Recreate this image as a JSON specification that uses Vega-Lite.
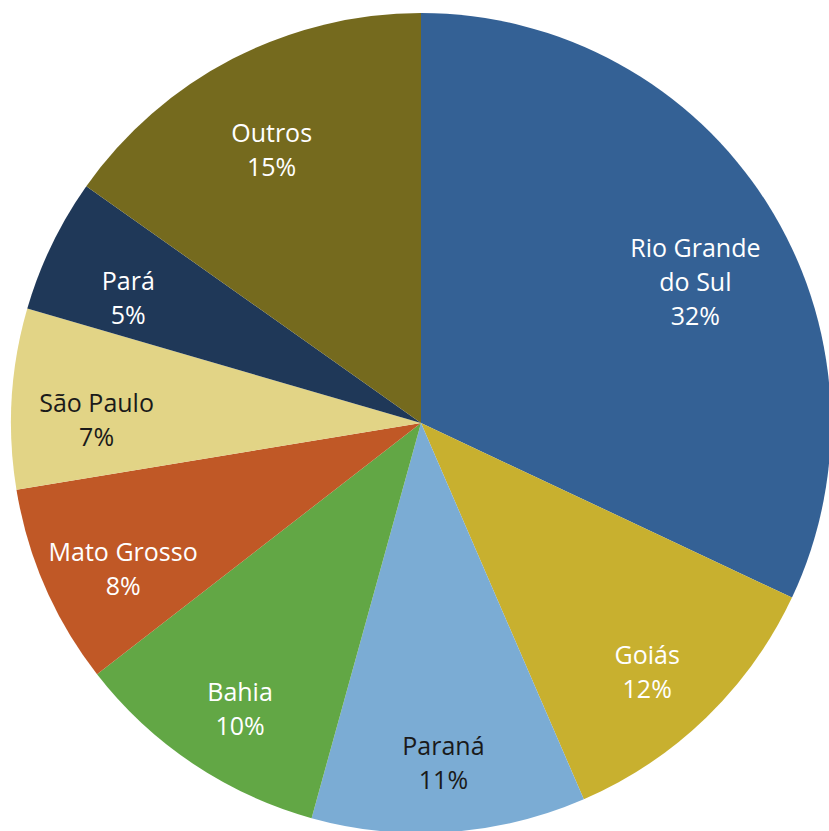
{
  "$schema": "https://vega.github.io/schema/vega-lite/v6.json",
  "width": 816,
  "height": 812,
  "autosize": {"type": "none"},
  "padding": {"left": 13, "top": 17, "right": 0, "bottom": 2},
  "background": "white",
  "view": {"stroke": null},
  "data": {
    "values": [
      {"ordem": 1, "estado": "Rio Grande do Sul", "rotulo": "Rio Grande\ndo Sul", "valor": 32.0},
      {"ordem": 2, "estado": "Goiás", "rotulo": "Goiás", "valor": 11.5},
      {"ordem": 3, "estado": "Paraná", "rotulo": "Paraná", "valor": 10.8},
      {"ordem": 4, "estado": "Bahia", "rotulo": "Bahia", "valor": 10.2},
      {"ordem": 5, "estado": "Mato Grosso", "rotulo": "Mato Grosso", "valor": 7.9},
      {"ordem": 6, "estado": "São Paulo", "rotulo": "São Paulo", "valor": 7.1},
      {"ordem": 7, "estado": "Pará", "rotulo": "Pará", "valor": 5.3},
      {"ordem": 8, "estado": "Outros", "rotulo": "Outros", "valor": 15.2}
    ]
  },
  "transform": [
    {"calculate": "datum.rotulo + '\\n' + round(datum.valor) + '%'", "as": "texto"}
  ],
  "encoding": {
    "theta": {"field": "valor", "type": "quantitative", "stack": true},
    "order": {"field": "ordem", "type": "quantitative"}
  },
  "layer": [
    {
      "mark": {"type": "arc", "radius": 410},
      "encoding": {
        "color": {
          "field": "estado",
          "type": "nominal",
          "legend": null,
          "scale": {
            "domain": ["Rio Grande do Sul", "Goiás", "Paraná", "Bahia", "Mato Grosso", "São Paulo", "Pará", "Outros"],
            "range": ["#346195", "#C8B02F", "#7BACD4", "#62A745", "#C05826", "#E2D486", "#1F3858", "#756A1E"]
          }
        }
      }
    },
    {
      "mark": {"type": "text", "radius": 325, "font": "Open Sans", "fontSize": 25, "lineBreak": "\n", "lineHeight": 34, "align": "center", "baseline": "middle"},
      "encoding": {
        "text": {"field": "texto", "type": "nominal"},
        "color": {
          "condition": {"test": "datum.estado === 'Paraná' || datum.estado === 'São Paulo'", "value": "#1a1a1a"},
          "value": "white"
        }
      }
    }
  ]
}
